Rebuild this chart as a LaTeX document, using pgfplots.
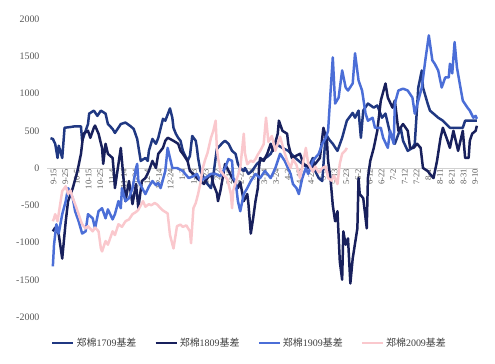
\documentclass[border=0pt]{standalone}
\usepackage{fontspec}
\setmainfont{Liberation Serif}
\newfontfamily\cjk{Noto Sans CJK SC}
\usepackage{pgfplots}
\usepackage{pgfplotstable}
\pgfplotsset{compat=1.18}
\definecolor{c1709}{HTML}{203882}
\definecolor{c1809}{HTML}{18205C}
\definecolor{c1909}{HTML}{4B6ED7}
\definecolor{c2009}{HTML}{FAC8CD}
\definecolor{tickgray}{HTML}{595959}

\pgfplotstableread{
d v
0 400
2 390
4 325
6 135
7 300
10 135
12 540
17 550
21 560
26 560
27 365
30 500
32 590
33 730
37 770
40 700
43 770
47 730
49 590
53 525
55 470
60 590
64 610
68 565
71 525
74 390
77 95
81 135
83 95
84 230
87 390
90 325
92 405
96 660
98 635
102 800
104 675
105 540
107 460
109 405
111 365
113 230
117 95
119 160
121 430
124 365
125 270
126 135
128 -40
131 -135
134 -215
137 -270
139 -100
142 255
147 340
149 365
152 325
155 230
158 190
160 55
162 0
165 -40
166 0
169 -80
172 -40
176 50
179 95
182 120
185 150
188 190
192 325
198 270
203 230
209 135
215 55
220 0
224 135
226 -40
229 -135
232 -175
235 460
238 380
241 325
245 230
249 405
253 635
258 740
260 675
263 770
265 405
267 770
271 865
276 810
279 840
283 675
286 730
290 460
294 325
299 540
301 365
305 230
309 270
311 325
314 1080
317 1310
318 1080
322 865
324 770
327 730
331 675
335 635
341 540
347 540
352 540
354 635
357 635
361 635
364 635
}\tblA

\pgfplotstableread{
d v
2 -850
4 -800
7 -890
10 -1215
13 -715
15 -445
19 -270
23 -40
26 190
28 460
32 500
34 405
37 540
38 570
41 460
44 270
45 55
47 325
49 190
53 135
54 -40
55 -270
60 270
61 95
64 -445
67 -175
70 -485
73 -215
75 -540
78 -175
81 -135
84 -40
87 95
90 0
92 190
96 270
98 365
100 405
102 390
105 365
109 325
111 230
113 190
117 95
119 -40
122 -80
125 -135
128 -175
131 -215
134 -135
137 -80
139 -215
142 -335
143 -445
145 -310
147 -135
149 55
154 -100
160 -270
162 -190
165 -445
168 -350
169 -485
171 -880
173 -675
175 -445
177 -270
178 0
179 135
182 95
185 190
188 325
190 230
194 460
195 635
198 500
202 460
203 325
206 135
213 190
216 55
222 0
226 55
230 135
233 540
236 365
237 95
239 -135
241 -500
243 -715
245 -580
247 -1255
249 -1500
250 -850
252 -1030
254 -945
256 -1550
258 -1215
262 -810
263 -135
264 -350
267 -405
270 -810
271 -135
273 95
276 270
279 500
282 905
286 1134
288 945
292 810
294 905
297 500
301 590
305 500
307 270
310 270
313 325
316 270
318 0
322 -40
324 -80
327 -135
330 95
333 405
335 540
339 365
341 270
344 500
348 230
352 500
354 135
357 135
358 365
360 460
363 500
364 567
}\tblB

\pgfplotstableread{
d v
2 -1320
3 -1030
5 -755
7 -880
10 -620
13 -445
15 -270
19 -405
21 -580
24 -715
27 -880
30 -850
32 -620
36 -675
38 -810
41 -580
44 -540
47 -675
49 -555
53 -690
55 -620
58 -445
60 -540
61 -270
64 -445
67 -405
70 -270
73 0
74 55
75 -175
81 -350
84 -250
87 -175
90 -230
92 -200
94 -270
98 -40
100 270
104 0
108 0
113 -40
115 -80
118 -135
122 -110
125 -80
128 -175
132 -135
137 -80
141 -80
145 -110
149 0
152 120
155 95
156 -135
158 -175
160 -445
162 -580
165 -350
168 -270
171 -175
175 -80
179 -135
183 -40
188 -135
192 0
196 190
200 95
205 -80
207 -215
210 -270
212 -350
215 -135
218 0
220 -80
224 95
226 135
229 190
232 325
235 405
237 500
239 1000
241 1485
243 865
246 945
249 1310
252 1080
254 1040
258 1135
260 1540
263 1175
266 1040
269 730
271 635
275 675
277 540
282 540
284 405
288 270
290 500
293 325
294 865
297 1040
301 1065
305 1040
309 945
311 730
314 905
317 1080
320 1445
323 1780
326 1445
328 1400
331 1310
334 1080
337 1215
340 1215
341 1400
343 1270
345 1690
347 1350
350 1080
352 905
356 810
358 770
361 675
363 700
364 660
}\tblC

\pgfplotstableread{
d v
2 -715
3 -675
4 -620
6 -715
10 -310
13 -245
15 -350
17 -300
19 -405
21 -485
24 -620
26 -715
27 -755
30 -810
32 -780
36 -850
38 -800
41 -850
43 -1080
44 -1120
47 -980
49 -1030
53 -850
55 -900
58 -755
61 -790
64 -715
67 -690
70 -620
73 -590
75 -560
79 -445
81 -520
84 -485
86 -500
89 -470
91 -490
94 -540
96 -570
100 -610
102 -900
105 -1080
108 -780
111 -760
113 -790
116 -770
119 -850
120 -1010
122 -540
124 -470
126 -350
128 -200
130 0
132 110
134 200
137 405
139 500
141 635
142 270
143 135
145 -30
148 -100
151 -150
154 -350
155 -540
156 -300
160 -100
162 0
165 460
166 200
168 50
171 100
173 80
175 120
177 180
179 230
182 320
184 675
186 350
189 430
192 230
196 420
199 250
202 100
205 0
207 120
210 40
213 -135
216 100
218 270
220 60
224 -50
226 20
229 -60
232 0
235 20
237 -135
240 -170
242 -100
245 -215
247 60
249 190
252 240
253 270
}\tblD

\begin{document}
\begin{tikzpicture}[x=1bp,y=1bp]
\useasboundingbox (0,0) rectangle (495,363);
\begin{axis}[
  at={(47bp,46bp)}, anchor=south west,
  width=431bp, height=298bp, scale only axis,
  xmin=-3, xmax=365, ymin=-2000, ymax=2000,
  axis x line*=middle, axis y line*=left,
  x axis line style={draw=black!18, line width=0.8pt},
  y axis line style={draw=none},
  major tick length=0,
  xtick={0,10,...,360},
  xticklabels={9-15,9-25,10-5,10-15,10-25,11-4,11-14,11-24,12-4,12-14,12-24,1-3,1-13,1-23,2-2,2-12,2-22,3-4,3-14,3-24,4-3,4-13,4-23,5-3,5-13,5-23,6-2,6-12,6-22,7-2,7-12,7-22,8-1,8-11,8-21,8-31,9-10},
  xticklabel style={rotate=90, anchor=east, font=\fontsize{8.6}{8.6}\selectfont, text=tickgray, inner sep=1bp, yshift=-3bp},
  ytick={-2000,-1500,-1000,-500,0,500,1000,1500,2000},
  yticklabels={-2000,-1500,-1000,-500,0,500,1000,1500,2000},
  yticklabel style={font=\fontsize{10}{10}\selectfont, text=tickgray, xshift=-4bp},
  legend columns=4,
  legend style={at={(0.47,-0.087)}, anchor=center, draw=none, fill=none,
    font=\fontsize{10}{10}\selectfont, text=black!75,
    /tikz/every even column/.append style={column sep=16bp},
    inner sep=0pt},
  legend image code/.code={\draw[#1, line width=2.4pt] (0bp,0bp) -- (21bp,0bp);},
  every axis plot/.append style={line width=2.5pt, line join=round, mark=none},
]
\addplot[c1709] table[x=d,y=v] {\tblA};
\addlegendentry{{\cjk 郑棉}1709{\cjk 基差}}
\addplot[c1809] table[x=d,y=v] {\tblB};
\addlegendentry{{\cjk 郑棉}1809{\cjk 基差}}
\addplot[c1909] table[x=d,y=v] {\tblC};
\addlegendentry{{\cjk 郑棉}1909{\cjk 基差}}
\addplot[c2009] table[x=d,y=v] {\tblD};
\addlegendentry{{\cjk 郑棉}2009{\cjk 基差}}
\end{axis}
\end{tikzpicture}
\end{document}
